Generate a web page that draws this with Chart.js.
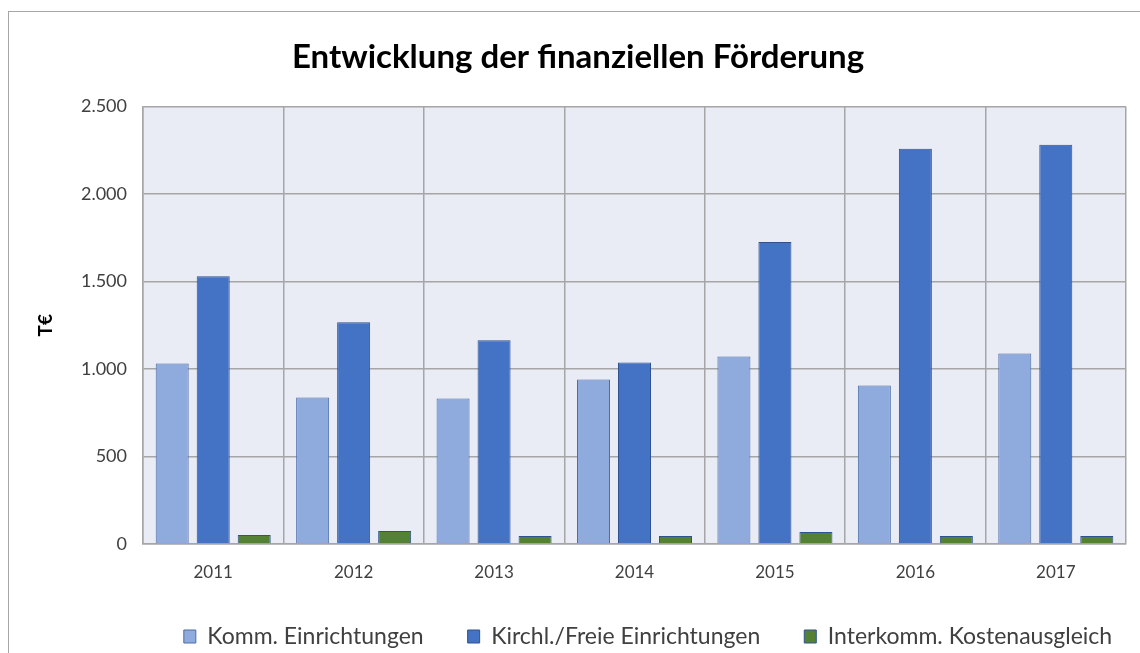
<!DOCTYPE html>
<html>
<head>
<meta charset="utf-8">
<script src="https://cdn.jsdelivr.net/npm/chart.js@4.4.0/dist/chart.umd.min.js"></script>
<style>
  html, body { margin: 0; padding: 0; background: #fff; }
  #wrap { position: relative; width: 1140px; height: 653px; }
  #frame { position: absolute; left: 8px; top: 11px; width: 1140px; height: 700px; border: 1px solid #a6a6a6; box-sizing: border-box; }
  canvas { position: absolute; left: 0; top: 0; }
</style>
</head>
<body>
<div id="wrap">
  <div id="frame"></div>
  <canvas id="myChart" width="1140" height="653"></canvas>
</div>
<script>
// Data
const years = ["2011", "2012", "2013", "2014", "2015", "2016", "2017"];
const kommEinrichtungen = [1032, 837, 831, 940, 1072, 906, 1089];
const kirchlFreie = [1531, 1267, 1164, 1038, 1726, 2259, 2282];
const interkomm = [52, 75, 46, 46, 69, 46, 46];
const yTicks = [0, 500, 1000, 1500, 2000, 2500];

const ctx = document.getElementById('myChart');
const fontFamily = "Lato, 'Noto Sans', sans-serif";

// format like 2.500
function germanNum(v) {
  return String(v).replace(/\B(?=(\d{3})+(?!\d))/g, ".");
}

// light lavender plot background + nudge legend to the right (original chart was wider)
const plotBg = {
  id: 'plotBg',
  afterLayout(chart) {
    chart.legend.left += 70;
    chart.legend.right += 70;
  },
  beforeDraw(chart) {
    const a = chart.chartArea;
    const c = chart.ctx;
    c.save();
    c.fillStyle = '#e9ebf5';
    c.fillRect(a.left, a.top, a.right - a.left, a.bottom - a.top);
    c.restore();
  }
};

new Chart(ctx, {
  type: 'bar',
  data: {
    labels: years,
    datasets: [
      {
        label: 'Komm. Einrichtungen',
        data: kommEinrichtungen,
        backgroundColor: '#8faadc',
        borderColor: '#4a6ea9',
        borderWidth: 1
      },
      {
        label: 'Kirchl./Freie Einrichtungen',
        data: kirchlFreie,
        backgroundColor: '#4472c4',
        borderColor: '#2f528f',
        borderWidth: 1
      },
      {
        label: 'Interkomm. Kostenausgleich',
        data: interkomm,
        backgroundColor: '#548235',
        borderColor: '#2f528f',
        borderWidth: 1
      }
    ]
  },
  options: {
    responsive: false,
    animation: false,
    categoryPercentage: 0.876,
    barPercentage: 0.805,
    layout: { padding: { left: 30, right: 14, top: 38, bottom: -5 } },
    plugins: {
      title: {
        display: true,
        text: 'Entwicklung der finanziellen Förderung',
        color: '#000',
        font: { family: fontFamily, size: 33, weight: 'bold' },
        padding: { top: 0, bottom: 29 }
      },
      legend: {
        position: 'bottom',
        labels: {
          color: '#404040',
          font: { family: fontFamily, size: 23 },
          boxWidth: 12,
          boxHeight: 13,
          padding: 44
        }
      },
      tooltip: { enabled: false }
    },
    scales: {
      x: {
        grid: { color: '#a6a6a6', lineWidth: 1.5, drawTicks: false, offset: true },
        border: { color: '#a6a6a6', width: 1.5 },
        ticks: {
          color: '#404040',
          font: { family: fontFamily, size: 17 },
          padding: 18
        },
        afterFit(scale) { scale.height = 37; }
      },
      y: {
        min: 0,
        max: 2500,
        afterBuildTicks(scale) {
          scale.ticks = yTicks.map(v => ({ value: v }));
        },
        grid: { color: '#a6a6a6', lineWidth: 1.5, drawTicks: false },
        border: { color: '#a6a6a6', width: 1.5 },
        ticks: {
          color: '#404040',
          font: { family: fontFamily, size: 18 },
          padding: 16,
          callback: v => germanNum(v)
        },
        title: {
          display: true,
          text: 'T€',
          color: '#000',
          font: { family: fontFamily, size: 19, weight: 'bold' }
        },
        afterFit(scale) { scale.width = 113; }
      }
    }
  },
  plugins: [plotBg]
});
</script>
</body>
</html>
